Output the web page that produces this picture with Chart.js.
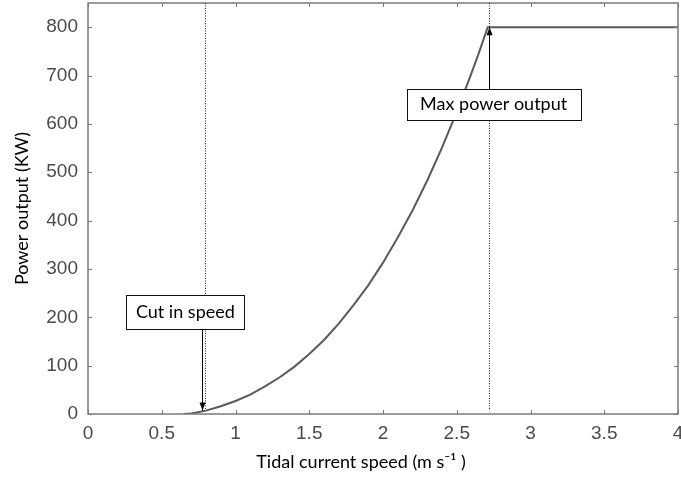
<!DOCTYPE html>
<html><head><meta charset="utf-8">
<script src="https://cdn.jsdelivr.net/npm/chart.js@4.4.0/dist/chart.umd.min.js"></script>
<style>html,body{margin:0;padding:0;background:#fff}canvas{display:block}</style>
</head><body>
<canvas id="c" width="681" height="480"></canvas>
<script>
// Tidal current speed (m/s) and power output (kW)
const speed = [0.65, 0.7, 0.8, 0.9, 1.0, 1.1, 1.2, 1.3, 1.4, 1.5, 1.6, 1.7, 1.8, 1.9, 2.0, 2.1, 2.2, 2.3, 2.4, 2.5, 2.6, 2.65, 2.71, 4.0];
const power = [0, 1, 7, 16, 27, 40, 57, 76, 98, 124, 153, 187, 225, 266, 313, 365, 421, 483, 551, 625, 705, 747, 800, 800];
const xTicks = [0, 0.5, 1, 1.5, 2, 2.5, 3, 3.5, 4];
const yTicks = [0, 100, 200, 300, 400, 500, 600, 700, 800];
const annotationLabels = ['Cut in speed', 'Max power output'];
const cutInSpeed = 0.79;
const cutInPower = 7;
const maxSpeed = 2.72;
const maxPower = 800;
const xTitle = 'Tidal current speed (m s\u207B\u00B9 )';
const yTitle = 'Power output (KW)';

const boxFont = '18px Lato, "Open Sans", sans-serif';

const framePlugin = {
  id: 'frame',
  afterDatasetsDraw(chart) {
    const ctx = chart.ctx, a = chart.chartArea;
    const xs = chart.scales.x, ys = chart.scales.y;
    ctx.save();
    ctx.strokeStyle = '#7a7a7a';
    ctx.lineWidth = 1.5;
    ctx.strokeRect(a.left, a.top, a.right - a.left, a.bottom - a.top);
    ctx.lineWidth = 1;
    ctx.beginPath();
    xTicks.forEach(v => {
      const px = Math.round(xs.getPixelForValue(v)) + 0.5;
      ctx.moveTo(px, a.bottom); ctx.lineTo(px, a.bottom - 4);
      ctx.moveTo(px, a.top); ctx.lineTo(px, a.top + 4);
    });
    yTicks.forEach(v => {
      const py = Math.round(ys.getPixelForValue(v)) + 0.5;
      ctx.moveTo(a.left, py); ctx.lineTo(a.left + 4, py);
      ctx.moveTo(a.right, py); ctx.lineTo(a.right - 4, py);
    });
    ctx.stroke();

    ctx.strokeStyle = '#222';
    ctx.lineWidth = 1;
    ctx.setLineDash([1, 1.5]);
    const x1 = Math.round(xs.getPixelForValue(cutInSpeed)) + 0.5;
    const x2 = Math.round(xs.getPixelForValue(maxSpeed)) + 0.5;
    const yb = ys.getPixelForValue(cutInPower);
    ctx.beginPath();
    ctx.moveTo(x1, a.top); ctx.lineTo(x1, yb);
    ctx.moveTo(x2, a.top); ctx.lineTo(x2, yb);
    ctx.stroke();
    ctx.setLineDash([]);

    function box(text, v0, v1, p0, p1) {
      const l = xs.getPixelForValue(v0), r = xs.getPixelForValue(v1);
      const t = ys.getPixelForValue(p0), b = ys.getPixelForValue(p1);
      ctx.fillStyle = '#fff';
      ctx.fillRect(l, t, r - l, b - t);
      ctx.strokeStyle = '#111';
      ctx.lineWidth = 1;
      ctx.strokeRect(Math.round(l) + 0.5, Math.round(t) + 0.5, Math.round(r - l), Math.round(b - t));
      ctx.fillStyle = '#000';
      ctx.font = boxFont;
      ctx.textAlign = 'center';
      ctx.textBaseline = 'middle';
      ctx.fillText(text, (l + r) / 2, (t + b) / 2);
      return {l, r, t, b};
    }
    const b1 = box(annotationLabels[0], 0.26, 1.06, 246, 176);
    const b2 = box(annotationLabels[1], 2.16, 3.34, 672, 608);

    ctx.strokeStyle = '#000';
    ctx.fillStyle = '#000';
    ctx.lineWidth = 1;
    function arrow(xa, ya, xb, yb2) {
      ctx.beginPath(); ctx.moveTo(xa, ya); ctx.lineTo(xb, yb2); ctx.stroke();
      const ang = Math.atan2(yb2 - ya, xb - xa);
      ctx.beginPath();
      ctx.moveTo(xb, yb2);
      ctx.lineTo(xb - 8 * Math.cos(ang) + 3 * Math.sin(ang), yb2 - 8 * Math.sin(ang) - 3 * Math.cos(ang));
      ctx.lineTo(xb - 8 * Math.cos(ang) - 3 * Math.sin(ang), yb2 - 8 * Math.sin(ang) + 3 * Math.cos(ang));
      ctx.closePath(); ctx.fill();
    }
    arrow(x1 - 3, b1.b, x1 - 3, yb);
    arrow(x2, b2.t, x2, ys.getPixelForValue(maxPower));

    ctx.fillStyle = '#000';
    ctx.font = '18px Lato, "Open Sans", sans-serif';
    ctx.textAlign = 'center';
    ctx.textBaseline = 'alphabetic';
    ctx.fillText(xTitle, 361, 468);
    ctx.restore();
  }
};

new Chart(document.getElementById('c'), {
  type: 'line',
  data: {
    datasets: [{
      data: speed.map((s, i) => ({x: s, y: power[i]})),
      borderColor: '#5a5a5a',
      borderWidth: 2,
      pointRadius: 0,
      tension: 0,
      fill: false
    }]
  },
  options: {
    responsive: false,
    animation: false,
    layout: {padding: {top: 3, right: 3, left: 0, bottom: 0}},
    plugins: {legend: {display: false}, tooltip: {enabled: false}},
    scales: {
      x: {
        type: 'linear', min: 0, max: 4,
        afterBuildTicks: s => { s.ticks = xTicks.map(v => ({value: v})); },
        afterFit: s => { s.height = 66; s.paddingLeft = 0; s.paddingRight = 0; },
        grid: {display: false, drawTicks: false},
        border: {display: false},
        ticks: {color: '#4a4a4a', font: {family: '"Liberation Sans", Arial, sans-serif', size: 19}, padding: 8, maxRotation: 0,
          callback: v => String(v)}
      },
      y: {
        type: 'linear', min: 0, max: 850,
        afterBuildTicks: s => { s.ticks = yTicks.map(v => ({value: v})); },
        afterFit: s => { s.width = 88; s.paddingTop = 0; s.paddingBottom = 0; },
        grid: {display: false, drawTicks: false},
        border: {display: false},
        ticks: {color: '#4a4a4a', font: {family: '"Liberation Sans", Arial, sans-serif', size: 19}, padding: 10,
          callback: v => String(v)},
        title: {display: true, text: yTitle, color: '#000', font: {family: 'Lato, "Open Sans", sans-serif', size: 18}, padding: {top: 11, bottom: 0}}
      }
    }
  },
  plugins: [framePlugin]
});
</script>
</body></html>
